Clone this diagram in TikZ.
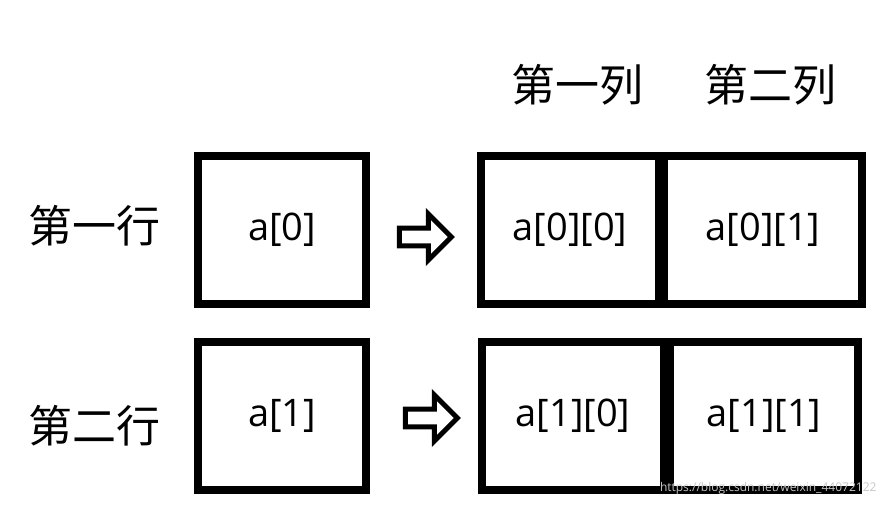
\documentclass[tikz,border=0pt]{standalone}
\usepackage{fontspec}
\setmainfont{Open Sans}
\newfontfamily\cjk{Noto Sans CJK SC}
\usetikzlibrary{shapes.arrows}
\tikzset{
  cell/.style={draw, line width=8pt, minimum height=148pt, inner sep=0pt, font=\fontsize{38}{40}\selectfont},
  head/.style={font=\cjk\fontsize{44}{46}\selectfont},
  turn/.style={single arrow, draw, line width=5pt, fill=white, minimum width=46pt,
    single arrow head extend=4pt, minimum height=52pt, inner sep=0pt}
}
\begin{document}
\begin{tikzpicture}[x=1pt,y=-1pt]
\useasboundingbox (0,0) rectangle (886,506);
% column and row headings
\node[head] (c1) at (577,85) {第一列};
\node[head] (c2) at (770,85) {第二列};
\node[head] (r1) at (94,226) {第一行};
\node[head] (r2) at (94,426) {第二行};
% first row
\node[cell, minimum width=168pt] (a0) at (282,230) {a[0]};
\node[turn] (t0) at (421,237) {};
\node[cell, minimum width=178pt] (a00) at (570,230) {a[0][0]};
\node[cell, minimum width=198pt] (a01) at (763,230) {a[0][1]};
% second row
\node[cell, minimum width=168pt] (a1) at (282,416) {a[1]};
\node[turn] (t1) at (427,418) {};
\node[cell, minimum width=182pt] (a10) at (573,416) {a[1][0]};
\node[cell, minimum width=188pt] (a11) at (764,416) {a[1][1]};
\node[text=gray!45, font=\fontsize{12}{14}\selectfont, anchor=east] (wm) at (880,488) {https://blog.csdn.net/weixin\_44072122};
\end{tikzpicture}
\end{document}
